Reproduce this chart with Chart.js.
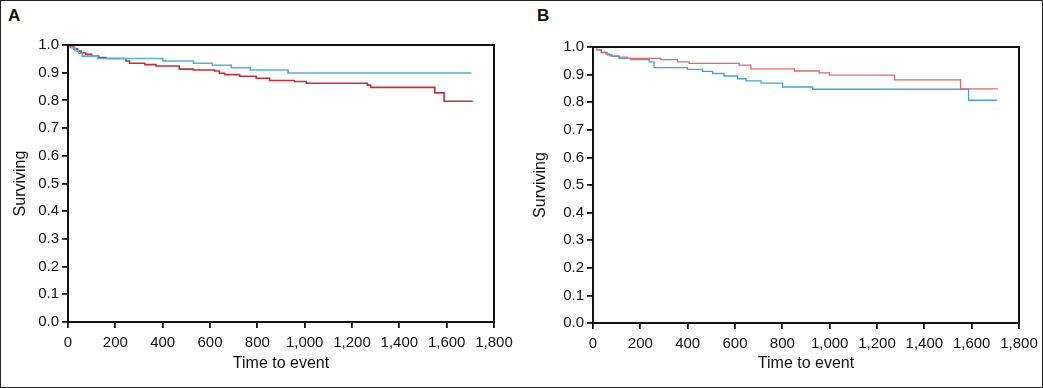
<!DOCTYPE html>
<html>
<head>
<meta charset="utf-8">
<script src="https://cdn.jsdelivr.net/npm/chart.js@4.4.1/dist/chart.umd.min.js"></script>
<style>
  html, body { margin: 0; padding: 0; background: #fff; }
  #wrap { position: relative; width: 1043px; height: 388px; box-sizing: border-box; border: 1px solid #222; overflow: hidden; }
  .cv { position: absolute; top: 0; }
  .lbl { position: absolute; font-family: "Liberation Sans", Arial, sans-serif; font-weight: bold; font-size: 17px; line-height: 20px; color: #111; }
</style>
</head>
<body>
<div id="wrap">
  <div class="lbl" style="left:7px; top:5px;">A</div>
  <div class="lbl" style="left:536px; top:5px;">B</div>
  <div class="cv" style="left:0; width:520px; height:388px;"><canvas id="cA"></canvas></div>
  <div class="cv" style="left:520px; width:523px; height:388px;"><canvas id="cB"></canvas></div>
</div>
<script>
// ---- Data ----
const xTicks = [0, 200, 400, 600, 800, 1000, 1200, 1400, 1600, 1800];
const yTicks = [0.0, 0.1, 0.2, 0.3, 0.4, 0.5, 0.6, 0.7, 0.8, 0.9, 1.0];

// Panel A
const timesA_blue = [0, 15, 30, 45, 60, 125, 400, 530, 610, 690, 770, 930, 1705];
const survA_blue  = [1.0, 0.99, 0.98, 0.97, 0.960, 0.951, 0.942, 0.934, 0.927, 0.918, 0.910, 0.899, 0.899];
const timesA_red  = [0, 10, 25, 40, 55, 75, 100, 130, 160, 245, 260, 325, 372, 470, 530, 620, 640, 662, 725, 795, 852, 957, 1007, 1265, 1279, 1550, 1589, 1710];
const survA_red   = [1.0, 0.993, 0.986, 0.978, 0.972, 0.966, 0.960, 0.955, 0.951, 0.942, 0.934, 0.929, 0.924, 0.913, 0.910, 0.906, 0.898, 0.893, 0.887, 0.880, 0.872, 0.868, 0.862, 0.855, 0.847, 0.827, 0.797, 0.797];

// Panel B
const timesB_red  = [0, 15, 35, 55, 70, 110, 145, 286, 357, 406, 618, 667, 851, 956, 999, 1274, 1553, 1711];
const survB_red   = [1.0, 0.99, 0.98, 0.975, 0.968, 0.963, 0.959, 0.954, 0.946, 0.941, 0.934, 0.921, 0.913, 0.906, 0.898, 0.881, 0.848, 0.848];
const timesB_blue = [0, 15, 35, 60, 80, 110, 160, 237, 258, 399, 463, 505, 554, 611, 646, 710, 801, 928, 1587, 1707];
const survB_blue  = [1.0, 0.99, 0.98, 0.972, 0.966, 0.959, 0.954, 0.946, 0.925, 0.919, 0.912, 0.904, 0.895, 0.885, 0.877, 0.869, 0.855, 0.847, 0.807, 0.807];

const xTitle = "Time to event";
const yTitle = "Surviving";

// ---- Chart construction ----
const FONT = '"Liberation Sans Narrow", "Liberation Sans", Arial, sans-serif';
const INK = '#111';

function pts(ts, vs) { return ts.map((t, i) => ({ x: t, y: vs[i] })); }

const framePlugin = {
  id: 'frame',
  afterDatasetsDraw(chart) {
    const a = chart.chartArea, ctx = chart.ctx;
    ctx.save();
    ctx.strokeStyle = INK;
    ctx.lineWidth = 2;
    ctx.strokeRect(a.left, a.top, a.right - a.left, a.bottom - a.top);
    ctx.restore();
  }
};

function makeChart(id, datasets, pad, yWidth, xHeight) {
  return new Chart(document.getElementById(id), {
    type: 'line',
    data: { datasets },
    options: {
      responsive: true,
      maintainAspectRatio: false,
      animation: false,
      layout: { padding: pad },
      plugins: { legend: { display: false }, tooltip: { enabled: false } },
      elements: { point: { radius: 0 } },
      scales: {
        x: {
          type: 'linear', min: 0, max: 1800,
          afterBuildTicks: s => { s.ticks = xTicks.map(v => ({ value: v })); },
          afterFit: s => { s.height = xHeight; },
          ticks: {
            color: INK, padding: 6, maxRotation: 0, autoSkip: false,
            font: { family: FONT, size: 15 },
            callback: v => v.toLocaleString('en-US')
          },
          grid: { drawOnChartArea: false, drawTicks: true, tickLength: 6, color: INK, lineWidth: 1.8 },
          border: { display: true, color: INK, width: 2 },
          title: { display: true, text: xTitle, color: INK, font: { family: FONT, size: 16 }, padding: { top: 0, bottom: 16 } }
        },
        y: {
          type: 'linear', min: 0, max: 1,
          afterBuildTicks: s => { s.ticks = yTicks.map(v => ({ value: v })); },
          afterFit: s => { s.width = yWidth; },
          ticks: {
            color: INK, padding: 3, autoSkip: false,
            font: { family: FONT, size: 15 },
            callback: v => Number(v).toFixed(1)
          },
          grid: { drawOnChartArea: false, drawTicks: true, tickLength: 6, color: INK, lineWidth: 1.8 },
          border: { display: true, color: INK, width: 2 },
          title: { display: true, text: yTitle, color: INK, font: { family: FONT, size: 16 }, padding: { top: 10, bottom: 0 } }
        }
      }
    },
    plugins: [framePlugin]
  });
}

makeChart('cA', [
  { data: pts(timesA_blue, survA_blue), borderColor: '#5AAFD6', borderWidth: 1.6, stepped: 'before', fill: false },
  { data: pts(timesA_red, survA_red), borderColor: '#C2303C', borderWidth: 1.6, stepped: 'before', fill: false }
], { top: 44, right: 27, left: 0, bottom: 0 }, 67, 67);

makeChart('cB', [
  { data: pts(timesB_red, survB_red), borderColor: '#DD6A72', borderWidth: 1.3, stepped: 'before', fill: false },
  { data: pts(timesB_blue, survB_blue), borderColor: '#45A6CC', borderWidth: 1.3, stepped: 'before', fill: false }
], { top: 46, right: 25, left: 0, bottom: 0 }, 72, 66);
</script>
</body>
</html>
